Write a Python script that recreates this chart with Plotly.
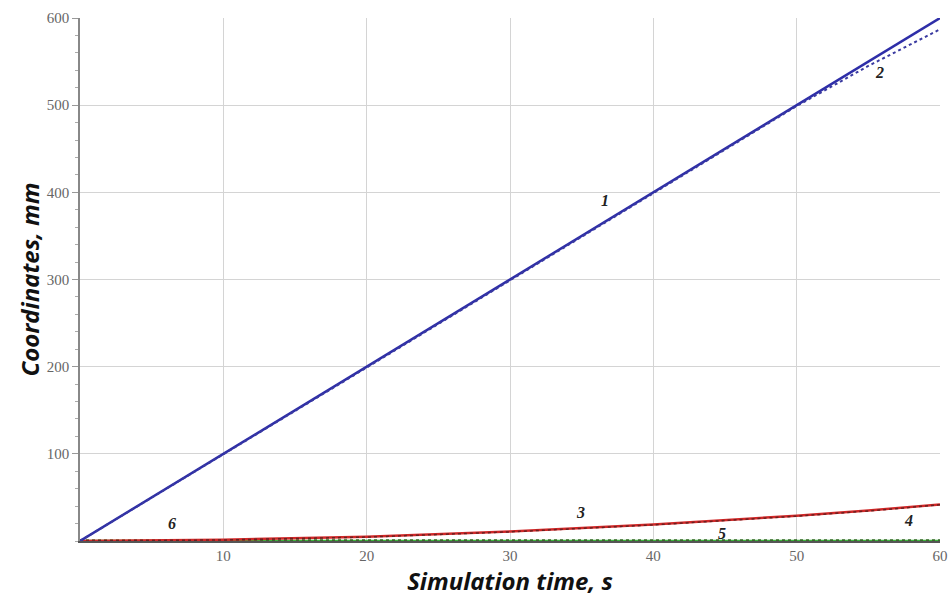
import plotly.graph_objects as go

t = [0, 10, 20, 30, 40, 50, 55, 60]
y1 = [0, 100, 200, 300, 400, 500, 550, 600]
y2 = [0, 99, 199, 299, 399, 499, 545, 587]
y3 = [0, 1.5, 5, 11, 19, 29, 35, 42]
y4 = [0, 1.2, 4.5, 10.5, 18.5, 28.5, 34.5, 41.5]
y5 = [0, 0, 0, 0, 0, 0, 0, 0]
y6 = [0.8, 0.8, 0.8, 0.8, 0.8, 0.8, 0.8, 0.8]

x_ticks = [10, 20, 30, 40, 50, 60]
y_ticks = [100, 200, 300, 400, 500, 600]

labels = ["1", "2", "3", "4", "5", "6"]
label_x = [36.6, 55.8, 34.9, 57.8, 44.8, 6.4]
label_y = [391, 537, 33, 23, 9, 20]

fig = go.Figure()
fig.add_trace(go.Scatter(x=t, y=y5, mode="lines", line=dict(color="#3cb43c", width=2.5), showlegend=False))
fig.add_trace(go.Scatter(x=t, y=y6, mode="lines", line=dict(color="#3a6a2a", width=2, dash="dot"), showlegend=False))
fig.add_trace(go.Scatter(x=t, y=y3, mode="lines", line=dict(color="#d02828", width=2.5), showlegend=False))
fig.add_trace(go.Scatter(x=t, y=y4, mode="lines", line=dict(color="#6a2020", width=1.5, dash="dot"), showlegend=False))
fig.add_trace(go.Scatter(x=t, y=y1, mode="lines", line=dict(color="#2e2ea8", width=2.5), showlegend=False))
fig.add_trace(go.Scatter(x=t, y=y2, mode="lines", line=dict(color="#3a3aa0", width=2, dash="dot"), showlegend=False))

for lab, lx, ly in zip(labels, label_x, label_y):
    fig.add_annotation(x=lx, y=ly, text="<b><i>" + lab + "</i></b>", showarrow=False,
                       font=dict(family="Liberation Serif", size=16, color="#222222"))

fig.update_layout(
    width=950, height=603,
    margin=dict(l=80, r=10, t=18, b=62),
    paper_bgcolor="white", plot_bgcolor="white",
    xaxis=dict(range=[0, 60], tickvals=x_ticks, ticktext=[str(v) for v in x_ticks],
               automargin=False,
               showgrid=True, gridcolor="#d4d4d4", gridwidth=1,
               zeroline=False, showline=True, linecolor="#555555", linewidth=1.5,
               ticks="", tickfont=dict(family="Liberation Serif", size=15, color="#666666"),
               title=dict(text="<b><i>Simulation time, s</i></b>", standoff=0,
                          font=dict(family="Open Sans", size=24, color="#111111"))),
    yaxis=dict(range=[0, 600], tickvals=y_ticks, ticktext=[str(v) for v in y_ticks],
               automargin=False,
               showgrid=True, gridcolor="#d4d4d4", gridwidth=1,
               zeroline=False, showline=True, linecolor="#888888", linewidth=1.5,
               ticks="outside", ticklen=6, tickcolor="#999999",
               minor=dict(dtick=20, ticks="outside", ticklen=3, tickcolor="#aaaaaa", showgrid=False),
               tickfont=dict(family="Liberation Serif", size=15, color="#666666"),
               title=dict(text="<b><i>Coordinates, mm</i></b>", standoff=0,
                          font=dict(family="Open Sans", size=24, color="#111111"))),
)

fig.write_html("out.html")
